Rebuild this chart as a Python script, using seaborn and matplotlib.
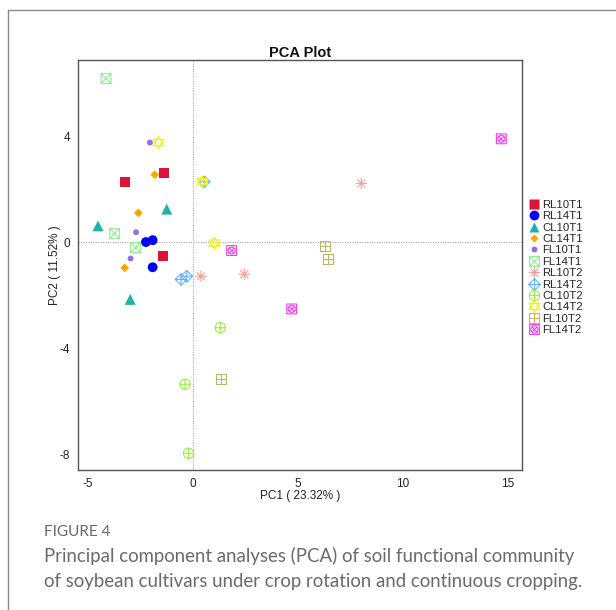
import numpy as np
import pandas as pd
import matplotlib
matplotlib.use("Agg")
import matplotlib.pyplot as plt
import seaborn as sns
from matplotlib.path import Path
from matplotlib.lines import Line2D

# ---------------- data ----------------
groups = ["RL10T1", "RL14T1", "CL10T1", "CL14T1", "FL10T1", "FL14T1",
          "RL10T2", "RL14T2", "CL10T2", "CL14T2", "FL10T2", "FL14T2"]
pc1_values = [
    [-1.37, -3.24, -1.44],
    [-2.24, -1.92, -1.92],
    [-1.25, -4.52, -2.99],
    [-1.82, -2.60, -3.25],
    [-2.05, -2.71, -2.97],
    [-4.14, -3.73, -2.73],
    [0.38, 2.44, 8.01],
    [0.54, -0.57, -0.30],
    [1.30, -0.38, -0.21],
    [-1.65, 0.44, 1.02],
    [6.29, 6.44, 1.33],
    [1.84, 4.70, 14.68],
]
pc2_values = [
    [2.62, 2.27, -0.52],
    [0.01, 0.08, -0.94],
    [1.25, 0.62, -2.15],
    [2.55, 1.11, -0.96],
    [3.76, 0.38, -0.61],
    [6.17, 0.33, -0.20],
    [-1.28, -1.20, 2.22],
    [2.28, -1.40, -1.28],
    [-3.22, -5.35, -7.95],
    [3.76, 2.28, -0.03],
    [-0.14, -0.63, -5.15],
    [-0.31, -2.51, 3.90],
]
x_ticks = [-5, 0, 5, 10, 15]
y_ticks = [-8, -4, 0, 4]
x_label = "PC1 ( 23.32% )"
y_label = "PC2 ( 11.52% )"
title = "PCA Plot"
caption_head = "FIGURE 4"
caption_lines = ["Principal component analyses (PCA) of soil functional community",
                 "of soybean cultivars under crop rotation and continuous cropping."]

rows = []
for g, xs, ys in zip(groups, pc1_values, pc2_values):
    for xv, yv in zip(xs, ys):
        rows.append({"group": g, "PC1": xv, "PC2": yv})
df = pd.DataFrame(rows)

# ---------------- marker shapes ----------------
def lines_path(*segs):
    verts, codes = [], []
    for seg in segs:
        for i, p in enumerate(seg):
            verts.append(p)
            codes.append(Path.MOVETO if i == 0 else Path.LINETO)
    return Path(verts, codes)

SQ = [(-1, -1), (1, -1), (1, 1), (-1, 1), (-1, -1)]
PLUS = ([(-1, 0), (1, 0)], [(0, -1), (0, 1)])
XD = ([(-1, -1), (1, 1)], [(-1, 1), (1, -1)])

m_sq_x = lines_path(SQ, *XD)
a = 0.707
m_ast = lines_path([(-1, 0), (1, 0)], [(0, -1), (0, 1)],
                   [(-a, -a), (a, a)], [(-a, a), (a, -a)])
m_dia_plus = lines_path([(0, 1), (1, 0), (0, -1), (-1, 0), (0, 1)], *PLUS)
m_circ_plus = Path.make_compound_path(Path.circle((0, 0), 1.0), lines_path(*PLUS))
t = 0.95
m_star = lines_path([(0, 1.05), (t, -0.55), (-t, -0.55), (0, 1.05)],
                    [(0, -1.05), (t, 0.55), (-t, 0.55), (0, -1.05)])
m_sq_plus = lines_path(SQ, *PLUS)
b = 0.5
m_sq_cx = Path.make_compound_path(lines_path(SQ), Path.circle((0, 0), 0.72),
                                  lines_path([(-b, -b), (b, b)], [(-b, b), (b, -b)]))

styles = {
    "RL10T1": dict(marker="s", color="#DC143C", filled=True, s=50),
    "RL14T1": dict(marker="o", color="#0000FF", filled=True, s=50),
    "CL10T1": dict(marker="^", color="#20B2AA", filled=True, s=62),
    "CL14T1": dict(marker="D", color="#FFA500", filled=True, s=20),
    "FL10T1": dict(marker="o", color="#9370DB", filled=True, s=18),
    "FL14T1": dict(marker=m_sq_x, color="#90EE90", filled=False, s=50),
    "RL10T2": dict(marker=m_ast, color="#F4A0A0", filled=False, s=70),
    "RL14T2": dict(marker=m_dia_plus, color="#66B2FF", filled=False, s=70),
    "CL10T2": dict(marker=m_circ_plus, color="#99EE44", filled=False, s=55),
    "CL14T2": dict(marker=m_star, color="#F5F500", filled=False, s=75),
    "FL10T2": dict(marker=m_sq_plus, color="#BDB76B", filled=False, s=50),
    "FL14T2": dict(marker=m_sq_cx, color="#F040F0", filled=False, s=50),
}

# ---------------- figure ----------------
sns.set_theme(style="white")
plt.rcParams["font.family"] = ["Liberation Sans", "DejaVu Sans"]

fig = plt.figure(figsize=(6.16, 6.10), dpi=100)
ax = fig.add_axes([78.3 / 616, 1 - 470 / 610, (521.7 - 78.3) / 616, (470 - 60) / 610])

ax.axhline(0, color="#a5a5a5", lw=0.8, ls=(0, (1, 1.2)), zorder=0)
ax.axvline(0, color="#a5a5a5", lw=0.8, ls=(0, (1, 1.2)), zorder=0)

handles = []
for g in groups:
    st = styles[g]
    sub = df[df["group"] == g]
    if st["filled"]:
        sns.scatterplot(data=sub, x="PC1", y="PC2", ax=ax, marker=st["marker"],
                        color=st["color"], edgecolor="none", linewidth=0,
                        s=st["s"], legend=False, zorder=3)
        h = Line2D([], [], ls="none", marker=st["marker"], markerfacecolor=st["color"],
                   markeredgecolor="none", markersize=np.sqrt(st["s"]))
    else:
        sns.scatterplot(data=sub, x="PC1", y="PC2", ax=ax, marker=st["marker"],
                        color=st["color"], facecolors="none", edgecolors=st["color"],
                        linewidth=0.8, s=st["s"], legend=False, zorder=3)
        h = Line2D([], [], ls="none", marker=st["marker"], markerfacecolor="none",
                   markeredgecolor=st["color"], markeredgewidth=0.8,
                   markersize=np.sqrt(st["s"]))
    handles.append(h)

ax.set_xlim(-5.46, 15.65)
ax.set_ylim(-8.58, 6.87)
ax.set_xticks(x_ticks)
ax.set_yticks(y_ticks)
ax.set_xticklabels([str(v) for v in x_ticks])
ax.set_yticklabels([str(v) for v in y_ticks])
ax.tick_params(axis="both", direction="out", length=4, width=0.9, color="#444",
               labelsize=8.5, labelcolor="#222", pad=2)
for sp in ax.spines.values():
    sp.set_color("#555")
    sp.set_linewidth(1.0)
    sp.set_visible(True)

ax.set_xlabel(x_label, fontsize=8.5, color="#222", labelpad=0)
ax.set_ylabel(y_label, fontsize=8.5, color="#222", labelpad=-1)
ax.set_title(title, fontsize=10.5, fontweight="bold", color="#111", pad=2)

fig.legend(handles, groups, loc="upper left",
           bbox_to_anchor=(529 / 616, 1 - 200 / 610), frameon=False,
           fontsize=8.2, handlelength=0.8, handletextpad=0.35,
           labelspacing=0.12, borderpad=0, borderaxespad=0)

# journal frame
fig.add_artist(Line2D([8 / 616, 8 / 616], [0, 1 - 10 / 610],
                      transform=fig.transFigure, color="#8a8a8a", lw=1.0))
fig.add_artist(Line2D([8 / 616, 1], [1 - 10 / 610, 1 - 10 / 610],
                      transform=fig.transFigure, color="#8a8a8a", lw=1.0))

cap_font = ["Lato", "DejaVu Sans"]
fig.text(44 / 616, 1 - 532 / 610, caption_head, fontsize=11, color="#6a6a6a",
         family=cap_font, va="center", ha="left")
fig.text(44 / 616, 1 - 556 / 610, caption_lines[0], fontsize=13.4, color="#6a6a6a",
         family=cap_font, va="center", ha="left")
fig.text(44 / 616, 1 - 581 / 610, caption_lines[1], fontsize=13.4, color="#6a6a6a",
         family=cap_font, va="center", ha="left")

fig.savefig("out.png", dpi=100)
